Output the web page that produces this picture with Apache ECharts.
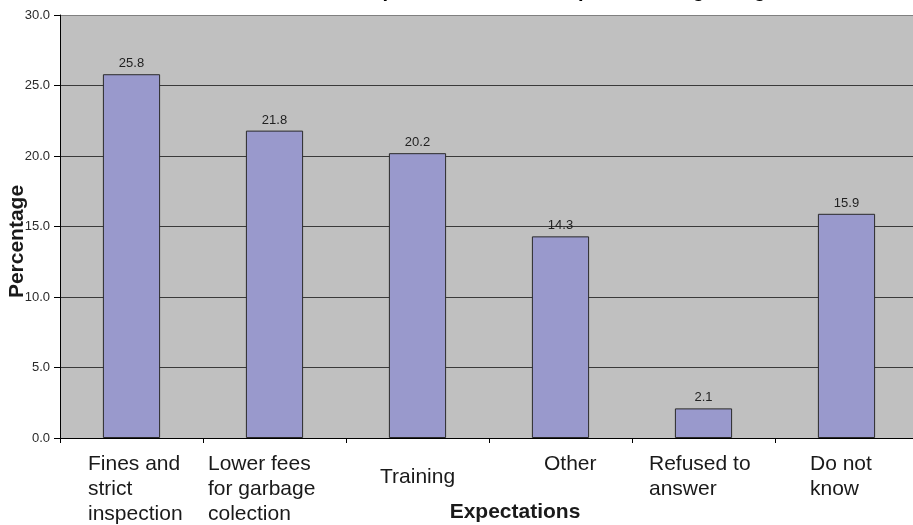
<!DOCTYPE html>
<html>
<head>
<meta charset="utf-8">
<script src="https://cdn.jsdelivr.net/npm/echarts@6/dist/echarts.min.js"></script>
<style>
  html, body { margin: 0; padding: 0; background: #ffffff; }
  #chart { width: 913px; height: 525px; }
</style>
</head>
<body>
<div id="chart"></div>
<script>
// Survey answers: what respondents expect to happen
const categories = [
  'Fines and\nstrict\ninspection',
  'Lower fees\nfor garbage\ncolection',
  'Training',
  'Other',
  'Refused to\nanswer',
  'Do not\nknow'
];
const percentages = [25.8, 21.8, 20.2, 14.3, 2.1, 15.9];
const yTicks = [0, 5, 10, 15, 20, 25, 30];

const chartTitle = 'Expectations of the respondents regarding solid waste management';
const xAxisTitle = 'Expectations';
const yAxisTitle = 'Percentage';

// Layout of each category label block (block width, line height)
const labelBox = [
  { w: 87, lh: 25 },
  { w: 133, lh: 25 },
  { w: 75, lh: 50 },
  { w: 33, lh: 25 },
  { w: 109, lh: 25 },
  { w: 73, lh: 25 }
];

const FONT = "'Liberation Sans', Arial, sans-serif";

const rich = {};
labelBox.forEach((b, i) => {
  rich['c' + i] = {
    width: b.w,
    align: 'left',
    lineHeight: b.lh,
    fontSize: 21,
    fontFamily: FONT,
    color: '#1a1a1a'
  };
});

const chart = echarts.init(document.getElementById('chart'));
chart.setOption({
  animation: false,
  backgroundColor: '#ffffff',
  graphic: [{
    type: 'text',
    left: 358,
    top: -19,
    style: {
      text: chartTitle,
      font: 'bold 20px ' + FONT,
      fill: '#000000'
    }
  }],
  grid: {
    left: 60,
    top: 15,
    right: -5,
    bottom: 87,
    outerBoundsMode: 'none',
    containLabel: false,
    show: true,
    backgroundColor: '#C0C0C0',
    borderWidth: 0
  },
  xAxis: {
    type: 'category',
    data: categories,
    name: xAxisTitle,
    nameLocation: 'middle',
    nameGap: 64,
    nameMoveOverlap: false,
    nameTextStyle: {
      fontFamily: FONT,
      fontWeight: 'bold',
      fontSize: 21,
      color: '#1a1a1a',
      padding: [0, 0, 0, 52]
    },
    axisLine: { show: true, lineStyle: { color: '#000000', width: 1 } },
    axisTick: { show: true, alignWithLabel: false, length: 5, lineStyle: { color: '#000000' } },
    axisLabel: {
      interval: 0,
      margin: 14,
      formatter: function (value, index) {
        return value.split('\n').map(line => '{c' + index + '|' + line + '}').join('\n');
      },
      rich: rich
    }
  },
  yAxis: {
    type: 'value',
    min: yTicks[0],
    max: yTicks[yTicks.length - 1],
    interval: yTicks[1] - yTicks[0],
    name: yAxisTitle,
    nameLocation: 'middle',
    nameGap: 32,
    nameRotate: 90,
    nameMoveOverlap: false,
    nameTextStyle: {
      fontFamily: FONT,
      fontWeight: 'bold',
      fontSize: 21,
      color: '#1a1a1a',
      padding: [0, 30, 0, 0]
    },
    axisLine: { show: true, lineStyle: { color: '#000000', width: 1 } },
    axisTick: { show: true, length: 6, lineStyle: { color: '#000000' } },
    axisLabel: {
      margin: 10,
      fontFamily: FONT,
      fontSize: 13,
      color: '#2a2a2a',
      formatter: v => v.toFixed(1)
    },
    splitLine: {
      show: true,
      lineStyle: {
        color: ['#000000', '#3a3a3a', '#3a3a3a', '#3a3a3a', '#3a3a3a', '#3a3a3a', '#808080'],
        width: 1
      }
    }
  },
  series: [{
    type: 'bar',
    data: percentages,
    barWidth: '40%',
    itemStyle: {
      color: '#9999CC',
      borderColor: '#2a2a2a',
      borderWidth: 1
    },
    label: {
      show: true,
      position: 'top',
      distance: 4,
      fontFamily: FONT,
      fontSize: 13,
      color: '#222222',
      formatter: p => p.value.toFixed(1)
    }
  }]
});
</script>
</body>
</html>
